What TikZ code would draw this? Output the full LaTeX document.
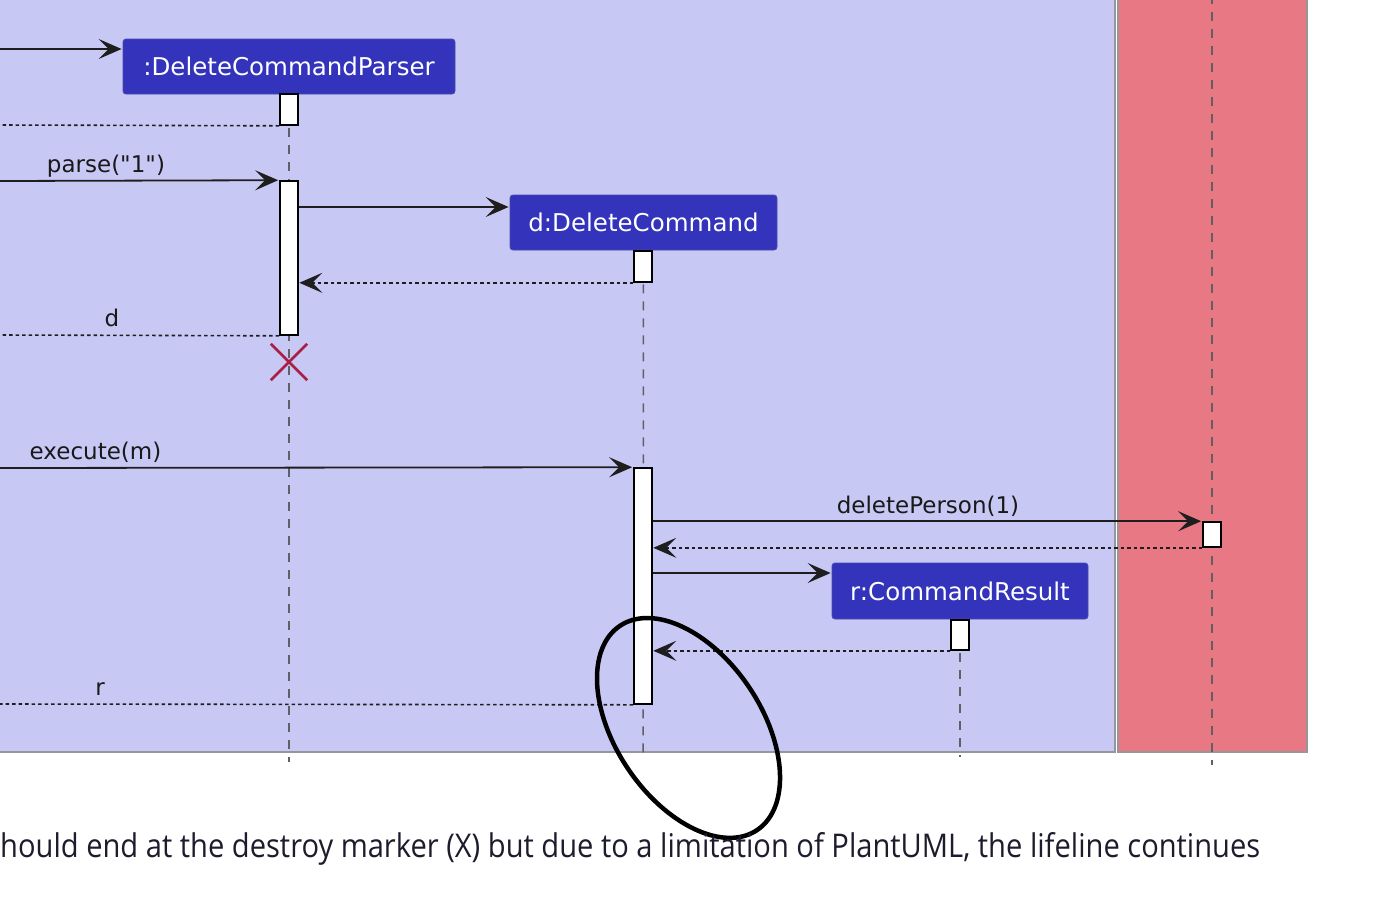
\documentclass[tikz,border=0pt]{standalone}
\usepackage{fontspec}
\usepackage{graphicx}
\setmainfont{DejaVu Sans}[Ligatures=TeXOff]
\newfontfamily\capfont{Open Sans}
\usetikzlibrary{arrows.meta,calc}
\definecolor{lav}{RGB}{200,200,245}
\definecolor{redbox}{RGB}{232,120,132}
\definecolor{partblue}{RGB}{51,51,187}
\definecolor{boxedge}{RGB}{150,150,155}
\definecolor{lifegray}{RGB}{95,95,100}
\definecolor{xred}{RGB}{170,30,70}
\definecolor{captxt}{RGB}{28,28,45}
\definecolor{arrowc}{RGB}{30,30,30}
\tikzset{
  participant/.style={rectangle, rounded corners=3pt, fill=partblue, draw=partblue!70!gray, line width=0.8pt, text=white, font=\fontsize{24.5}{28}\selectfont, inner sep=0pt},
  actbar/.style={rectangle, draw=black, fill=white, line width=1.6pt, minimum width=18pt, inner sep=0pt},
  lifeline/.style={draw=lifegray, line width=1.5pt, dash pattern=on 9pt off 8pt},
  msg/.style={draw=arrowc, line width=1.8pt, -{Stealth[length=23pt,width=20pt,inset=10pt]}},
  ret/.style={draw=arrowc, line width=1.6pt, dash pattern=on 3.5pt off 3pt, -{Stealth[length=23pt,width=20pt,inset=10pt]}},
  retopen/.style={draw=arrowc, line width=1.6pt, dash pattern=on 3.5pt off 3pt},
  msglabel/.style={font=\fontsize{23}{27}\selectfont, text=black!90, inner sep=0pt, anchor=base},
}
\begin{document}
\begin{tikzpicture}[x=1pt,y=-1pt]
\useasboundingbox (0,0) rectangle (1382,898);
\fill[white] (0,0) rectangle (1382,898);
\begin{scope}
\clip (0,0) rectangle (1382,898);
% group boxes
\draw[fill=lav, draw=boxedge, line width=1.8pt] (-10,-10) rectangle (1115,752);
\draw[fill=redbox, draw=boxedge, line width=1.8pt] (1118,-10) rectangle (1307,752);
% participants
\node[participant, minimum width=332pt, minimum height=55pt] (p1) at (289,66.5) {:DeleteCommandParser};
\node[participant, minimum width=267pt, minimum height=55pt] (p2) at (643.5,222.5) {d:DeleteCommand};
\node[participant, minimum width=256pt, minimum height=56pt] (p3) at (960,591) {r:CommandResult};
% lifeline coordinates
\coordinate (l1b) at (289,762);
\coordinate (l2b) at (643,758);
\coordinate (l3b) at (960,757);
\coordinate (l4t) at (1212,-5);
\coordinate (l4b) at (1212,765);
\draw[lifeline] (p1.south) -- (l1b);
\draw[lifeline] (p2.south) -- (l2b);
\draw[lifeline] (p3.south) -- (l3b);
\draw[lifeline] (l4t) -- (l4b);
% activation bars
\node[actbar, minimum height=31pt] (a1) at (289,109.5) {};
\node[actbar, minimum height=154pt] (a2) at (289,258) {};
\node[actbar, minimum height=31pt] (a3) at (643,266.5) {};
\node[actbar, minimum height=236pt] (a4) at (643,586) {};
\node[actbar, minimum height=25pt] (a5) at (1212,534.5) {};
\node[actbar, minimum height=30pt] (a6) at (960,635) {};
% free ends on the left
\coordinate (e49) at (0,49);
\coordinate (e125) at (0,125);
\coordinate (e181) at (0,181);
\coordinate (e335) at (0,335);
\coordinate (e468) at (0,468);
\coordinate (e704) at (0,704);
% messages
\draw[msg, shorten >=1pt] (e49) -- (e49 -| p1.west);
\draw[retopen] (a1.south west) -- (e125);
\draw[msg, shorten >=1pt] (e181) -- (a2.north west);
\node[msglabel] (lparse) at (106,172) {parse("1")};
\coordinate (m207) at (0,207);
\draw[msg, shorten >=1pt] (m207 -| a2.east) -- (m207 -| p2.west);
\draw[ret, shorten >=0.5pt] (a3.south west) -- (a3.south -| a2.east);
\draw[retopen] (a2.south west) -- (e335);
\node[msglabel] (ld) at (112,326) {d};
% destroy marker
\node[inner sep=0pt, minimum size=36pt] (xmark) at (289,362) {};
\draw[xred, line width=2.6pt] (xmark.north west) -- (xmark.south east);
\draw[xred, line width=2.6pt] (xmark.north east) -- (xmark.south west);
\draw[msg, shorten >=1pt] (e468) -- (a4.north west);
\node[msglabel] (lexec) at (95.5,459.5) {execute(m)};
\draw[msg, shorten >=1pt] (a5.north -| a4.east) -- (a5.north west);
\node[msglabel] (ldel) at (928,513) {deletePerson(1)};
\draw[ret, shorten >=0.5pt] (a5.south west) -- (a5.south -| a4.east);
\coordinate (m573) at (0,573);
\draw[msg, shorten >=1pt] (m573 -| a4.east) -- (m573 -| p3.west);
\draw[ret, shorten >=0.5pt] (a6.south west) -- (a6.south -| a4.east);
\draw[retopen] (a4.south west) -- (e704);
\node[msglabel] (lr) at (100,695) {r};
\end{scope}
% highlight ellipse
\coordinate (ec) at (688.5,728);
\draw[black, line width=4.5pt, rotate around={-56.1:(ec)}] (ec) ellipse [x radius=123pt, y radius=73pt];
% caption
\node[anchor=base west, inner sep=0pt, text=captxt] (cap) at (0,857) {\resizebox{1260pt}{25pt}{\capfont\fontsize{30}{36}\selectfont hould end at the destroy marker (X) but due to a limitation of PlantUML, the lifeline continues}};
\end{tikzpicture}
\end{document}
